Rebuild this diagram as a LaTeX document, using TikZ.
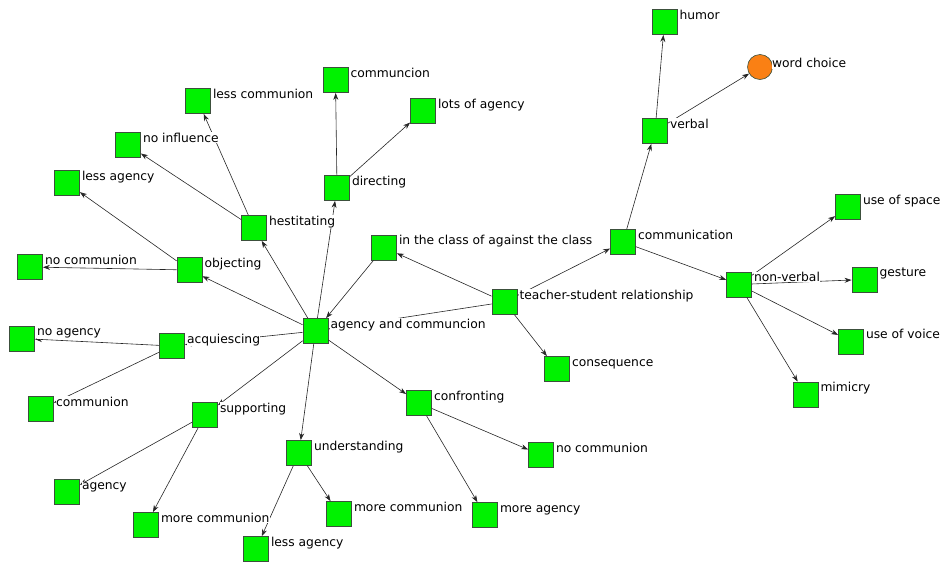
\documentclass[tikz,border=0pt]{standalone}
\usepackage{fontspec}
\setmainfont{DejaVu Sans}
\usetikzlibrary{arrows.meta}
\definecolor{sqgreen}{RGB}{0,242,0}
\definecolor{sqedge}{RGB}{60,80,60}
\definecolor{orng}{RGB}{250,128,20}
\tikzset{
  sq/.style={draw=sqedge, fill=sqgreen, line width=0.8pt, minimum size=25pt, inner sep=0pt, rectangle},
  circ/.style={draw=sqedge, fill=orng, line width=0.6pt, minimum size=25pt, inner sep=0pt, circle},
  lbl/.style={fill=white, inner sep=0.4pt, anchor=base west, font=\fontsize{12.3}{14}\selectfont},
  edge/.style={draw=black!85, line width=0.6pt, -{Stealth[length=7pt,width=5pt]}}
}
\newcommand\nd[3]{\node[sq] (#1) at (#2,#3) {};}
\newcommand\lab[2]{\node[lbl] (#1-l) at ([shift={(1.5pt,-10pt)}]#1.north east) {#2};}
\begin{document}
\begin{tikzpicture}[x=1pt,y=-1pt]
\useasboundingbox (0,0) rectangle (948,563);
% nodes
\nd{humor}{664.5}{22}
\node[circ] (wc) at (760,67) {};
\nd{verbal}{655}{131}
\nd{comm}{623}{242}
\nd{space}{848}{207}
\nd{nv}{739}{284.5}
\nd{gest}{864.5}{279.5}
\nd{voice}{851}{341.5}
\nd{mim}{805.5}{394.5}
\nd{ts}{504.5}{302}
\nd{itc}{384}{247.5}
\nd{ac}{315.5}{331}
\nd{cons}{557}{369}
\nd{conf}{419}{403}
\nd{nocR}{541}{455}
\nd{moreag}{485}{515}
\nd{und}{299}{453}
\nd{morecM}{339}{514}
\nd{lessagB}{256}{549}
\nd{sup}{205}{415}
\nd{agency}{67}{492}
\nd{morecL}{146}{525}
\nd{communion}{41}{409}
\nd{acq}{172}{346}
\nd{noag}{22}{338.5}
\nd{obj}{189.5}{270}
\nd{nocL}{30}{267}
\nd{lessagT}{67}{183}
\nd{hes}{254}{228}
\nd{noinf}{128}{145}
\nd{lessc}{198}{101}
\nd{communcion}{335.5}{80}
\nd{lots}{423}{111}
\nd{dir}{337}{188}
% edges
\draw[edge] (ac) -- (obj);
\draw[edge] (ac) -- (hes);
\draw[edge] (ac) -- (dir);
\draw[edge] (itc) -- (ac);
\draw[edge] (ac) -- (acq);
\draw[edge] (ac) -- (sup);
\draw[edge] (ac) -- (und);
\draw[edge] (ac) -- (conf);
\draw[edge] (ts) -- (ac);
\draw[edge] (ts) -- (itc);
\draw[edge] (ts) -- (cons);
\draw[edge] (ts) -- (comm);
\draw[edge] (comm) -- (verbal);
\draw[edge] (comm) -- (nv);
\draw[edge] (verbal) -- (humor);
\draw[edge] (verbal) -- (wc);
\draw[edge] (nv) -- (space);
\draw[edge] (nv) -- (gest);
\draw[edge] (nv) -- (voice);
\draw[edge] (nv) -- (mim);
\draw[edge] (obj) -- (lessagT);
\draw[edge] (obj) -- (nocL);
\draw[edge] (hes) -- (noinf);
\draw[edge] (hes) -- (lessc);
\draw[edge] (dir) -- (communcion);
\draw[edge] (dir) -- (lots);
\draw[edge] (acq) -- (noag);
\draw[edge] (acq) -- (communion);
\draw[edge] (sup) -- (agency);
\draw[edge] (sup) -- (morecL);
\draw[edge] (und) -- (lessagB);
\draw[edge] (und) -- (morecM);
\draw[edge] (conf) -- (nocR);
\draw[edge] (conf) -- (moreag);
% labels
\lab{humor}{humor}
\node[lbl] (wc-l) at ([shift={(2.5pt,-10pt)}]wc.north east) {word choice};
\lab{verbal}{verbal}
\lab{comm}{communication}
\lab{space}{use of space}
\lab{nv}{non-verbal}
\lab{gest}{gesture}
\lab{voice}{use of voice}
\lab{mim}{mimicry}
\lab{ts}{teacher-student relationship}
\lab{itc}{in the class of against the class}
\lab{ac}{agency and communcion}
\lab{cons}{consequence}
\lab{conf}{confronting}
\lab{nocR}{no communion}
\lab{moreag}{more agency}
\lab{und}{understanding}
\lab{morecM}{more communion}
\lab{lessagB}{less agency}
\lab{sup}{supporting}
\lab{agency}{agency}
\lab{morecL}{more communion}
\lab{communion}{communion}
\lab{acq}{acquiescing}
\lab{noag}{no agency}
\lab{obj}{objecting}
\lab{nocL}{no communion}
\lab{lessagT}{less agency}
\lab{hes}{hestitating}
\lab{noinf}{no influence}
\lab{lessc}{less communion}
\lab{communcion}{communcion}
\lab{lots}{lots of agency}
\lab{dir}{directing}
\end{tikzpicture}
\end{document}
